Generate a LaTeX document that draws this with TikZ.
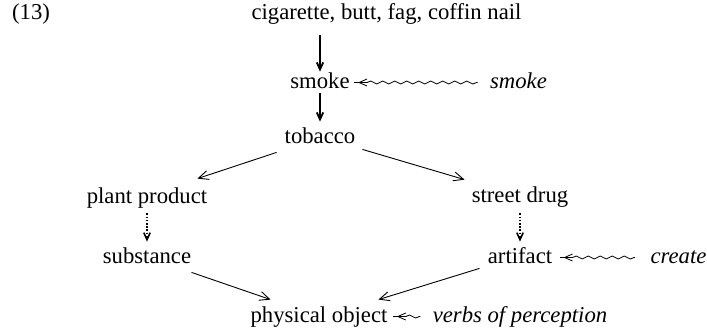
\documentclass[tikz,border=0pt]{standalone}
\usepackage{fontspec}
\setmainfont{Liberation Serif}
\usetikzlibrary{arrows.meta,decorations.pathmorphing}
\tikzset{
  term/.style={inner sep=0pt, text height=8pt, text depth=2.5pt, anchor=base},
  strict/.style={-{Straight Barb[length=3.5pt,width=3.2pt]}, line width=0.9pt},
  isa/.style={-{Straight Barb[length=5pt,width=4.5pt]}, line width=0.45pt},
  guess/.style={-{Straight Barb[length=3.5pt,width=3.2pt]}, line width=0.8pt, dash pattern=on 0.8pt off 0.8pt},
  coerce/.style={{Rectangle[length=2pt,width=0.01pt] Straight Barb[length=4pt,width=3.5pt]}-, line width=0.4pt, decorate,
    decoration={snake, amplitude=0.75pt, segment length=6pt, pre length=6.5pt}}
}

\begin{document}
\begin{tikzpicture}[x=0.5pt, y=-0.5pt, font=\fontsize{11.35}{13.6}\selectfont]
\useasboundingbox (0,0) rectangle (707,333);
\node[term] (num) at (31,19) {(13)};
\foreach \n/\x/\y/\txt in {cig/386.5/19/{cigarette, butt, fag, coffin nail}, smoke/320/88/smoke, tob/320/143/tobacco,
    plant/147/203/plant product, street/520/202/street drug, subst/147/263/substance, artif/520/263/artifact,
    phys/319/322/physical object} {
  \node[term] (\n) at (\x,\y) {\txt};
}
\foreach \n/\x/\y/\txt in {smokev/518.5/88/smoke, create/678.5/263/create, verbs/520/322/verbs of perception} {
  \node[term] (\n) at (\x,\y) {\itshape\txt};
}

% hyponymy chain
\draw[strict, shorten <=5.5pt] (cig.south -| smoke.north) -- (smoke.north);
\draw[strict, shorten >=2.5pt] (smoke) -- (tob);
\draw[isa] ([xshift=-3.85pt,yshift=-2pt]tob.south west) -- ([xshift=-5.1pt,yshift=4pt]plant.north east);
\draw[isa] ([xshift=3.35pt,yshift=-0.5pt]tob.south east) -- ([xshift=-3.4pt,yshift=3pt]street.north west);
\draw[guess, shorten <=2.5pt, shorten >=2.5pt] (plant) -- (subst);
\draw[guess, shorten <=3pt, shorten >=2.5pt] (street) -- (artif);
\draw[isa] ([yshift=-2pt]subst.south east) -- ([xshift=10.2pt,yshift=3pt]phys.north west);
\draw[isa] ([xshift=-4pt]artif.south west) -- ([xshift=-4.7pt,yshift=3pt]phys.north east);

% coercions
\draw[coerce] ([xshift=2pt]smoke.east) -- ([xshift=-6pt]smokev.west);
\draw[coerce] ([xshift=3.5pt]artif.east) -- ([xshift=-7.5pt]create.west);
\draw[coerce] ([xshift=2.5pt]phys.east) -- ([xshift=-6pt]verbs.west);
\end{tikzpicture}
\end{document}
